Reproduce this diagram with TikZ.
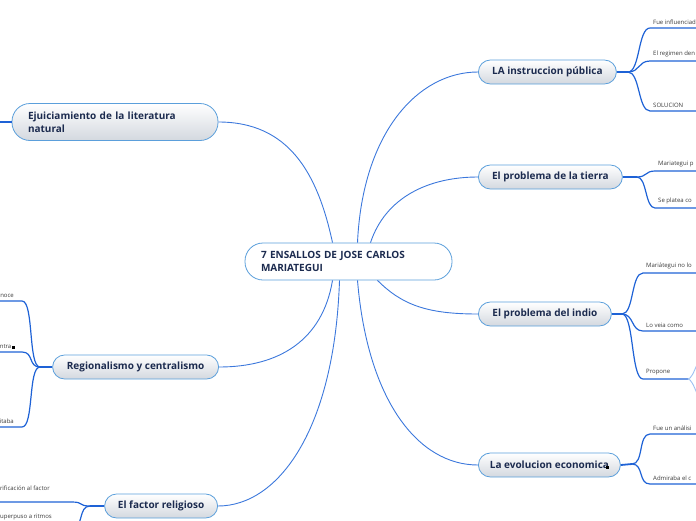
\documentclass[tikz,border=0pt]{standalone}
\usepackage{fontspec}
\setmainfont{Open Sans}
\usetikzlibrary{positioning,calc}

\definecolor{topicline}{HTML}{5B9FDB}
\definecolor{topicshade}{HTML}{D3D8DF}
\definecolor{topictext}{HTML}{1C2B4F}
\definecolor{linkblue}{HTML}{3C78DC}
\definecolor{stemblue}{HTML}{1E62D6}
\definecolor{paleblue}{HTML}{9CC0F2}
\definecolor{leaftext}{HTML}{3A3A3A}

\tikzset{
  topic/.style={draw=topicline,line width=0.8pt,rounded corners=12pt,top color=white,bottom color=topicshade,
    text=topictext,font=\fontsize{10}{12.5}\selectfont\bfseries,minimum height=24pt,inner xsep=10pt},
  bigtopic/.style={topic,rounded corners=18pt,minimum height=37pt,inner xsep=16pt,align=left},
  leaf/.style={font=\fontsize{6}{7}\selectfont,text=leaftext,inner xsep=3pt,inner ysep=3.5pt},
  link/.style={draw=linkblue,line width=0.9pt},
  stem/.style={draw=stemblue,line width=1.8pt},
  twig/.style={draw=stemblue,line width=1.2pt},
}

\begin{document}
\begin{tikzpicture}[x=1pt,y=-1pt]
\useasboundingbox (0,0) rectangle (696,520);

% central topic
\node[bigtopic,top color=white,bottom color=white,text width=175pt] (root) at (348.5,261.5)
  {7 ENSALLOS DE JOSE CARLOS\\MARIATEGUI};

% main topics
\node[bigtopic,text width=174pt] (ejui) at (115,122) {Ejuiciamiento de la literatura\\natural};
\node[topic,anchor=west,minimum width=138pt] (instr) at (478,72) {LA instruccion pública};
\node[topic,anchor=west,minimum width=144pt] (tierra) at (478,177) {El problema de la tierra};
\node[topic,anchor=west,minimum width=133pt] (indio) at (478,314) {El problema del indio};
\node[topic,anchor=west,minimum width=142pt] (evol) at (478,465) {La evolucion economica};
\node[topic,anchor=east,minimum width=166pt] (regio) at (219,367) {Regionalismo y centralismo};
\node[topic,anchor=east,minimum width=113pt] (relig) at (218,506) {El factor religioso};
\fill[black] (606,466) rectangle (609,469);

% links from the centre
\draw[link] ([xshift=-16pt]root.north) .. controls +(-15,-70) and +(70,0) .. (ejui.east);
\draw[link] ([xshift=9pt]root.north) .. controls +(5,-110) and +(-60,0) .. (instr.west);
\draw[link] ([xshift=22pt]root.north) .. controls +(15,-45) and +(-50,0) .. (tierra.west);
\draw[link] ([xshift=29pt]root.south) .. controls +(25,25) and +(-50,0) .. (indio.west);
\draw[link] ([xshift=9pt]root.south) .. controls +(10,120) and +(-60,0) .. (evol.west);
\draw[link] ([xshift=-16pt]root.south) .. controls +(-10,60) and +(60,0) .. (regio.east);
\draw[link] ([xshift=-9pt]root.south) .. controls +(-5,150) and +(60,0) .. (relig.east);

\draw[stem] (ejui.west) -- ++(-20,0);

% LA instruccion
\coordinate (instr-j) at (628,72);
\draw[stem] (instr.east) -- (instr-j);
\node[leaf,anchor=south west] (instr-a) at (650,28) {Fue influenciad};
\node[leaf,anchor=south west] (instr-b) at (650,61) {El regimen den};
\node[leaf,anchor=south west] (instr-c) at (650,111) {SOLUCION};
\foreach \l in {a,b,c}
  \draw[twig] (instr-j) .. controls +(12,0) and +(-12,0) .. (instr-\l.south west) -- ++(60,0);

% tierra
\coordinate (tierra-j) at (637,177);
\draw[stem] (tierra.east) -- (tierra-j);
\node[leaf,anchor=south west] (tierra-a) at (655,171) {Mariategui p};
\node[leaf,anchor=south west] (tierra-b) at (655,208) {Se platea co};
\foreach \l in {a,b}
  \draw[twig] (tierra-j) .. controls +(10,0) and +(-10,0) .. (tierra-\l.south west) -- ++(60,0);

% indio
\coordinate (indio-j) at (622,314);
\draw[stem] (indio.east) -- (indio-j);
\node[leaf,anchor=south west] (indio-a) at (643,273) {Mariátegui no lo};
\node[leaf,anchor=south west] (indio-b) at (643,331) {Lo veia como};
\node[leaf,anchor=south west] (indio-c) at (643,379) {Propone};
\foreach \l in {a,b}
  \draw[twig] (indio-j) .. controls +(12,0) and +(-12,0) .. (indio-\l.south west) -- ++(60,0);
\coordinate (prop-j) at (688,379);
\draw[twig] (indio-j) .. controls +(12,0) and +(-12,0) .. (indio-c.south west) -- (prop-j);
\coordinate (prop-up) at (706,350);
\coordinate (prop-dn) at (706,408);
\draw[paleblue,line width=0.9pt] (prop-j) .. controls +(6,0) and +(-6,0) .. (prop-up);
\draw[paleblue,line width=0.9pt] (prop-j) .. controls +(6,0) and +(-6,0) .. (prop-dn);

% evolucion
\coordinate (evol-j) at (632,464);
\draw[stem] (evol.east) -- (evol-j);
\node[leaf,anchor=south west] (evol-a) at (650,434) {Fue un análisi};
\node[leaf,anchor=south west] (evol-b) at (650,484) {Admiraba el c};
\foreach \l in {a,b}
  \draw[twig] (evol-j) .. controls +(12,0) and +(-12,0) .. (evol-\l.south west) -- ++(60,0);

% regionalismo
\coordinate (regio-j) at (40,367);
\draw[stem] (regio.west) -- (regio-j);
\node[leaf,anchor=south east,inner xsep=8pt] (regio-a) at (22,301) {anoce};
\node[leaf,anchor=south east,inner xsep=10.5pt] (regio-b) at (22,352) {entra};
\node[leaf,anchor=south east,inner xsep=8pt] (regio-c) at (22,427) {itaba};
\foreach \l in {a,b,c}
  \draw[twig] (regio-j) .. controls +(-12,0) and +(12,0) .. (regio-\l.south east) -- ++(-40,0);
\fill[black] (12,345.5) rectangle (15,348.5);

% factor religioso
\coordinate (relig-j) at (90,506);
\draw[stem] (relig.west) -- (relig-j);
\node[leaf,anchor=south east,inner xsep=22pt,inner ysep=11pt] (relig-a) at (72,502) {rificación al factor};
\node[leaf,anchor=south east,inner xsep=20pt,inner ysep=8pt] (relig-b) at (72,528) {uperpuso a ritmos};
\foreach \l in {a,b}
  \draw[twig] (relig-j) .. controls +(-12,0) and +(12,0) .. (relig-\l.south east) -- ++(-80,0);
\end{tikzpicture}
\end{document}
